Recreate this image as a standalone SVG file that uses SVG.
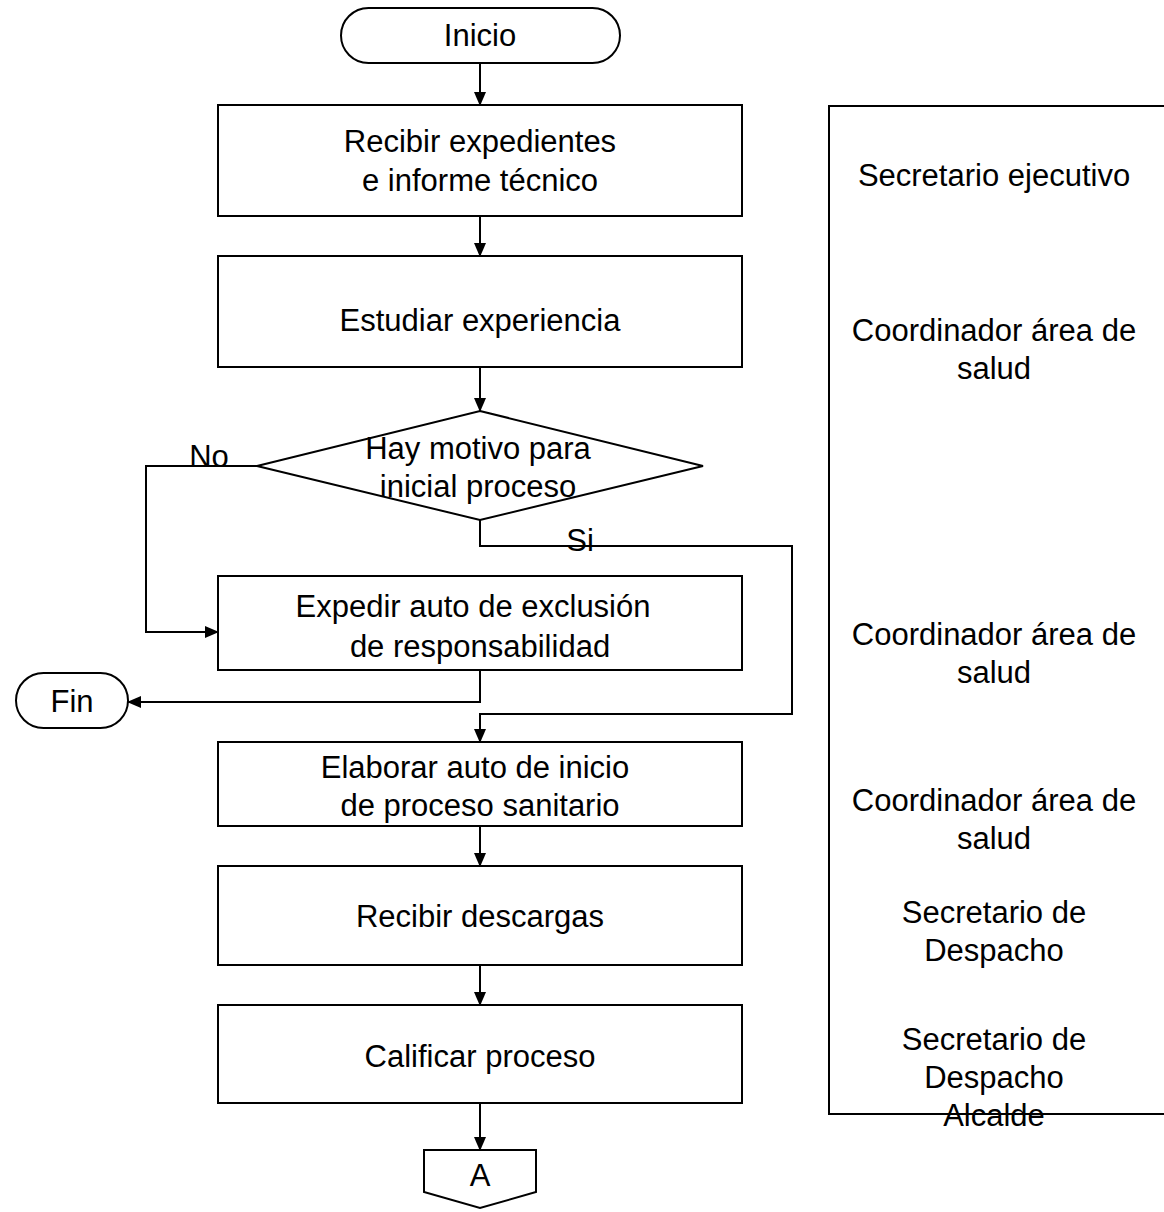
<svg xmlns="http://www.w3.org/2000/svg" width="1164" height="1212" viewBox="0 0 1164 1212">
<style>
.s{fill:#fff;stroke:#000;stroke-width:2}
.c{fill:none;stroke:#000;stroke-width:2}
text{font-family:"Liberation Sans",Arial,sans-serif;font-size:31px;fill:#000;text-anchor:middle}
</style>
<defs>
<marker id="ar" markerWidth="14" markerHeight="12" refX="13" refY="6" orient="auto" markerUnits="userSpaceOnUse">
<path d="M0,0 L14,6 L0,12 Z" fill="#000"/>
</marker>
</defs>
<rect width="1164" height="1212" fill="#fff"/>
<g id="lane">
<path class="c" d="M1164,106 H829 V1114 H1164"/>
<text x="994" y="186">Secretario ejecutivo</text>
<text x="994" y="341">Coordinador área de</text>
<text x="994" y="379">salud</text>
<text x="994" y="645">Coordinador área de</text>
<text x="994" y="683">salud</text>
<text x="994" y="811">Coordinador área de</text>
<text x="994" y="849">salud</text>
<text x="994" y="923">Secretario de</text>
<text x="994" y="961">Despacho</text>
<text x="994" y="1050">Secretario de</text>
<text x="994" y="1088">Despacho</text>
<text x="994" y="1126">Alcalde</text>
</g>
<g id="connectors">
<line class="c" x1="480" y1="63" x2="480" y2="105" marker-end="url(#ar)"/>
<line class="c" x1="480" y1="216" x2="480" y2="256" marker-end="url(#ar)"/>
<line class="c" x1="480" y1="367" x2="480" y2="411" marker-end="url(#ar)"/>
<path class="c" d="M257,466 H146 V632 H218" marker-end="url(#ar)"/>
<path class="c" d="M480,520 V546 H792 V714 H480 V742" marker-end="url(#ar)"/>
<path class="c" d="M480,670 V702 H128" marker-end="url(#ar)"/>
<line class="c" x1="480" y1="826" x2="480" y2="866" marker-end="url(#ar)"/>
<line class="c" x1="480" y1="965" x2="480" y2="1005" marker-end="url(#ar)"/>
<line class="c" x1="480" y1="1103" x2="480" y2="1150" marker-end="url(#ar)"/>
<text x="209" y="467">No</text>
<text x="580" y="551">Si</text>
</g>
<g id="inicio">
<rect class="s" x="341" y="8" width="279" height="55" rx="27.5"/>
<text x="480" y="46">Inicio</text>
</g>
<g id="recibir-expedientes">
<rect class="s" x="218" y="105" width="524" height="111"/>
<text x="480" y="152">Recibir expedientes</text>
<text x="480" y="191">e informe técnico</text>
</g>
<g id="estudiar">
<rect class="s" x="218" y="256" width="524" height="111"/>
<text x="480" y="331">Estudiar experiencia</text>
</g>
<g id="decision">
<polygon class="s" points="480,411 703,466 480,520 257,466"/>
<text x="478" y="459">Hay motivo para</text>
<text x="478" y="497">inicial proceso</text>
</g>
<g id="expedir">
<rect class="s" x="218" y="576" width="524" height="94"/>
<text x="473" y="617">Expedir auto de exclusión</text>
<text x="480" y="657">de responsabilidad</text>
</g>
<g id="fin">
<rect class="s" x="16" y="673" width="112" height="55" rx="27.5"/>
<text x="72" y="712">Fin</text>
</g>
<g id="elaborar">
<rect class="s" x="218" y="742" width="524" height="84"/>
<text x="475" y="778">Elaborar auto de inicio</text>
<text x="480" y="816">de proceso sanitario</text>
</g>
<g id="recibir-descargas">
<rect class="s" x="218" y="866" width="524" height="99"/>
<text x="480" y="927">Recibir descargas</text>
</g>
<g id="calificar">
<rect class="s" x="218" y="1005" width="524" height="98"/>
<text x="480" y="1067">Calificar proceso</text>
</g>
<g id="conector-a">
<polygon class="s" points="424,1150 536,1150 536,1192 480,1208 424,1192"/>
<text x="480" y="1186">A</text>
</g>
</svg>
